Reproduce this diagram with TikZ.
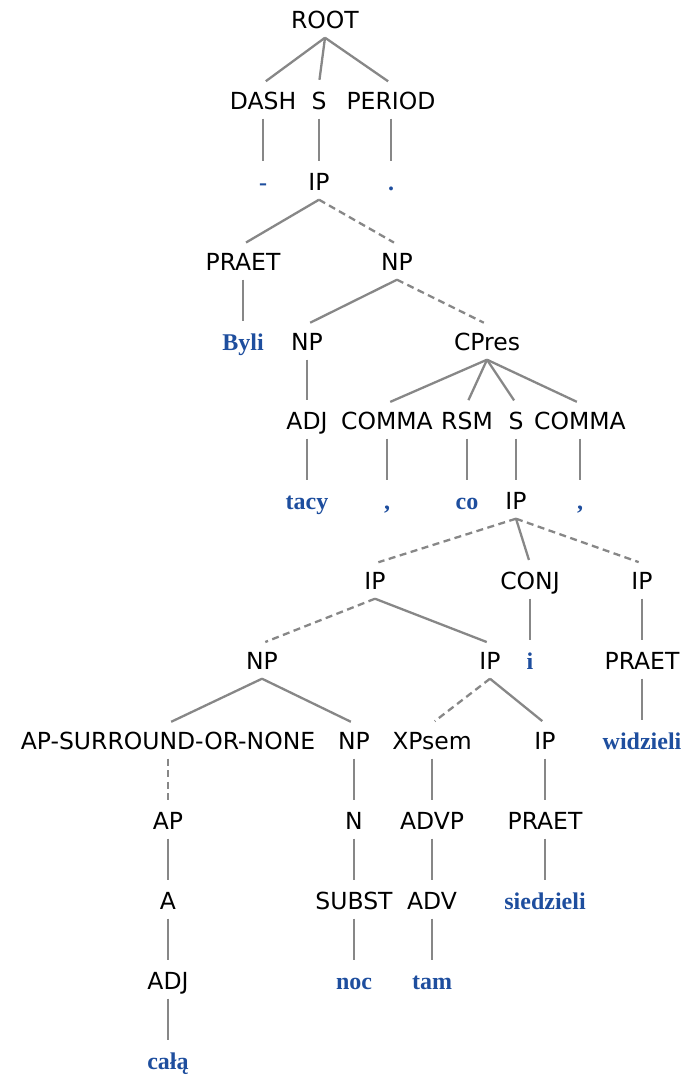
\documentclass[tikz,border=0pt]{standalone}
\usepackage{fontspec}
\setmainfont{DejaVu Sans}
\newfontfamily\termfont{Liberation Serif}
\definecolor{termblue}{RGB}{30,78,158}
\definecolor{edgegray}{RGB}{135,135,135}
\begin{document}
\begin{tikzpicture}[x=1pt,y=-1pt,
 nt/.style={inner xsep=0pt, inner ysep=9pt, text height=17pt, text depth=0pt, font=\fontsize{23.5}{28}\selectfont},
 tm/.style={nt, font=\fontsize{24}{28}\selectfont\termfont\bfseries, text=termblue},
 edg/.style={draw=edgegray, line width=2.3pt, shorten >=3.5pt},
 dedg/.style={edg, dash pattern=on 7pt off 4.5pt}]
\useasboundingbox (0,0) rectangle (683,1075);
\node[nt] (root) at (325,20) {ROOT};
\node[nt] (dash) at (263,101) {DASH};
\node[nt] (s1) at (319,101) {S};
\node[nt] (period) at (391,101) {PERIOD};
\node[tm] (hy) at (263,182) {-};
\node[nt] (ip1) at (319,182) {IP};
\node[tm] (dot) at (391,182) {.};
\node[nt] (praet1) at (243,262) {PRAET};
\node[nt] (np1) at (397,262) {NP};
\node[tm] (byli) at (243,342) {Byli};
\node[nt] (np2) at (307,342) {NP};
\node[nt] (cpres) at (487,342) {CPres};
\node[nt] (adj1) at (307,421) {ADJ};
\node[nt] (comma1) at (387,421) {COMMA};
\node[nt] (rsm) at (467,421) {RSM};
\node[nt] (s2) at (516,421) {S};
\node[nt] (comma2) at (580,421) {COMMA};
\node[tm] (tacy) at (307,501) {tacy};
\node[tm] (c1) at (387,501) {,};
\node[tm] (co) at (467,501) {co};
\node[nt] (ip2) at (516,501) {IP};
\node[tm] (c2) at (580,501) {,};
\node[nt] (ip3) at (375,581) {IP};
\node[nt] (conj) at (530,581) {CONJ};
\node[nt] (ip4) at (642,581) {IP};
\node[nt] (np3) at (262,661) {NP};
\node[nt] (ip5) at (490,661) {IP};
\node[tm] (i) at (530,661) {i};
\node[nt] (praet2) at (642,661) {PRAET};
\node[nt] (apsur) at (168,741) {AP-SURROUND-OR-NONE};
\node[nt] (np4) at (354,741) {NP};
\node[nt] (xpsem) at (432,741) {XPsem};
\node[nt] (ip6) at (545,741) {IP};
\node[tm] (widzieli) at (642,741) {widzieli};
\node[nt] (ap) at (168,821) {AP};
\node[nt] (n) at (354,821) {N};
\node[nt] (advp) at (432,821) {ADVP};
\node[nt] (praet3) at (545,821) {PRAET};
\node[nt] (a) at (168,901) {A};
\node[nt] (subst) at (354,901) {SUBST};
\node[nt] (adv) at (432,901) {ADV};
\node[tm] (siedzieli) at (545,901) {siedzieli};
\node[nt] (adj2) at (168,981) {ADJ};
\node[tm] (noc) at (354,981) {noc};
\node[tm] (tam) at (432,981) {tam};
\node[tm] (cala) at (168,1061) {całą};
% edges
\draw[edg] (root.south) -- (dash.north);
\draw[edg] (root.south) -- (s1.north);
\draw[edg] (root.south) -- (period.north);
\draw[edg] (dash.south) -- (hy.north);
\draw[edg] (s1.south) -- (ip1.north);
\draw[edg] (period.south) -- (dot.north);
\draw[edg] (ip1.south) -- (praet1.north);
\draw[dedg] (ip1.south) -- (np1.north);
\draw[edg] (praet1.south) -- (byli.north);
\draw[edg] (np1.south) -- (np2.north);
\draw[dedg] (np1.south) -- (cpres.north);
\draw[edg] (np2.south) -- (adj1.north);
\draw[edg] (cpres.south) -- (comma1.north);
\draw[edg] (cpres.south) -- (rsm.north);
\draw[edg] (cpres.south) -- (s2.north);
\draw[edg] (cpres.south) -- (comma2.north);
\draw[edg] (adj1.south) -- (tacy.north);
\draw[edg] (comma1.south) -- (c1.north);
\draw[edg] (rsm.south) -- (co.north);
\draw[edg] (s2.south) -- (ip2.north);
\draw[edg] (comma2.south) -- (c2.north);
\draw[dedg] (ip2.south) -- (ip3.north);
\draw[edg] (ip2.south) -- (conj.north);
\draw[dedg] (ip2.south) -- (ip4.north);
\draw[dedg] (ip3.south) -- (np3.north);
\draw[edg] (ip3.south) -- (ip5.north);
\draw[edg] (conj.south) -- (i.north);
\draw[edg] (ip4.south) -- (praet2.north);
\draw[edg] (np3.south) -- (apsur.north);
\draw[edg] (np3.south) -- (np4.north);
\draw[dedg] (ip5.south) -- (xpsem.north);
\draw[edg] (ip5.south) -- (ip6.north);
\draw[edg] (praet2.south) -- (widzieli.north);
\draw[dedg] (apsur.south) -- (ap.north);
\draw[edg] (np4.south) -- (n.north);
\draw[edg] (xpsem.south) -- (advp.north);
\draw[edg] (ip6.south) -- (praet3.north);
\draw[edg] (ap.south) -- (a.north);
\draw[edg] (n.south) -- (subst.north);
\draw[edg] (advp.south) -- (adv.north);
\draw[edg] (praet3.south) -- (siedzieli.north);
\draw[edg] (a.south) -- (adj2.north);
\draw[edg] (subst.south) -- (noc.north);
\draw[edg] (adv.south) -- (tam.north);
\draw[edg] (adj2.south) -- (cala.north);
\end{tikzpicture}
\end{document}
